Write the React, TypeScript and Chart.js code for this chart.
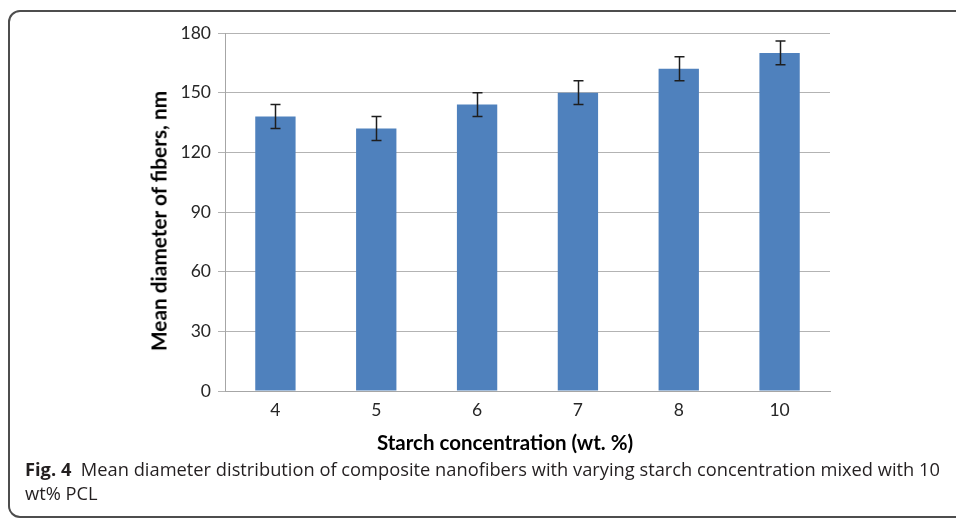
import React, { useEffect, useRef } from "react";
import { Chart, registerables } from "chart.js";

Chart.register(...registerables);

const categories = ["4", "5", "6", "7", "8", "10"];
const meanDiameter = [138, 132, 144, 150, 162, 170];
const errorMargin = [6, 6, 6, 6, 6, 6];
const yMin = 0;
const yMax = 180;
const yStep = 30;

const errorBarPlugin = {
  id: "errorBars",
  afterDatasetsDraw(chart: any) {
    const { ctx } = chart;
    const y = chart.scales.y;
    const meta = chart.getDatasetMeta(0);
    ctx.save();
    ctx.strokeStyle = "#1e1e1e";
    ctx.lineWidth = 1.5;
    meta.data.forEach((bar: any, i: number) => {
      const v = meanDiameter[i];
      const e = errorMargin[i];
      const cx = Math.round(bar.x) + 0.5;
      const yTop = y.getPixelForValue(v + e);
      const yBot = y.getPixelForValue(v - e);
      ctx.beginPath();
      ctx.moveTo(cx, yTop);
      ctx.lineTo(cx, yBot);
      ctx.moveTo(cx - 5, yTop);
      ctx.lineTo(cx + 5, yTop);
      ctx.moveTo(cx - 5, yBot);
      ctx.lineTo(cx + 5, yBot);
      ctx.stroke();
    });
    ctx.restore();
  },
};

export default function App() {
  const canvasRef = useRef<HTMLCanvasElement | null>(null);

  useEffect(() => {
    if (!canvasRef.current) return;
    const chart = new Chart(canvasRef.current, {
      type: "bar",
      data: {
        labels: categories,
        datasets: [
          {
            data: meanDiameter,
            backgroundColor: "#4F81BD",
            borderWidth: 0,
            categoryPercentage: 1,
            barPercentage: 0.4,
          },
        ],
      },
      options: {
        responsive: false,
        animation: false,
        devicePixelRatio: 1,
        layout: { padding: { left: 0, top: 33, right: 126, bottom: 0 } },
        plugins: {
          legend: { display: false },
          tooltip: { enabled: false },
          title: { display: false },
        },
        scales: {
          x: {
            grid: { display: false, drawTicks: false },
            border: { display: true, color: "#a6a6a6", width: 1 },
            ticks: {
              color: "#262626",
              font: { family: "Lato", size: 17.5 },
              padding: 9,
            },
            afterFit(scale: any) {
              scale.height = 128;
            },
          },
          y: {
            min: yMin,
            max: yMax,
            ticks: {
              stepSize: yStep,
              color: "#262626",
              font: { family: "Lato", size: 17.5 },
              padding: 7,
            },
            grid: {
              color: "#b3b3b3",
              lineWidth: 1,
              tickLength: 7,
              drawTicks: true,
            },
            border: { display: true, color: "#a6a6a6", width: 1 },
            afterFit(scale: any) {
              scale.width = 225;
            },
          },
        },
      },
      plugins: [errorBarPlugin],
    });
    return () => chart.destroy();
  }, []);

  return (
    <div
      style={{
        position: "absolute",
        left: 0,
        top: 0,
        width: 956,
        height: 519,
        overflow: "hidden",
        background: "#ffffff",
      }}
    >
      <div
        style={{
          position: "absolute",
          left: 8,
          top: 10,
          width: 980,
          height: 508,
          border: "2px solid #4d4d4d",
          borderRadius: 12,
          boxSizing: "border-box",
        }}
      />
      <canvas
        ref={canvasRef}
        width={956}
        height={519}
        style={{ position: "absolute", left: 0, top: 0, width: 956, height: 519 }}
      />
      <div
        style={{
          position: "absolute",
          left: 158,
          top: 221,
          transform: "translate(-50%, -50%) rotate(-90deg)",
          whiteSpace: "nowrap",
          fontFamily: "Lato",
          fontWeight: 700,
          fontSize: 20.8,
          color: "#000",
        }}
      >
        Mean diameter of fibers, nm
      </div>
      <div
        style={{
          position: "absolute",
          left: 505,
          top: 442,
          transform: "translate(-50%, -50%)",
          whiteSpace: "nowrap",
          fontFamily: "Lato",
          fontWeight: 700,
          fontSize: 20.5,
          color: "#000",
        }}
      >
        Starch concentration (wt. %)
      </div>
      <div
        style={{
          position: "absolute",
          left: 25,
          top: 457,
          fontFamily: "Open Sans",
          fontSize: 18.3,
          lineHeight: "24px",
          color: "#231f20",
          whiteSpace: "nowrap",
        }}
      >
        <span style={{ fontWeight: 700 }}>Fig. 4</span>
        {"\u00a0\u00a0Mean diameter distribution of composite nanofibers with varying starch concentration mixed with 10"}
        <br />
        wt% PCL
      </div>
    </div>
  );
}
